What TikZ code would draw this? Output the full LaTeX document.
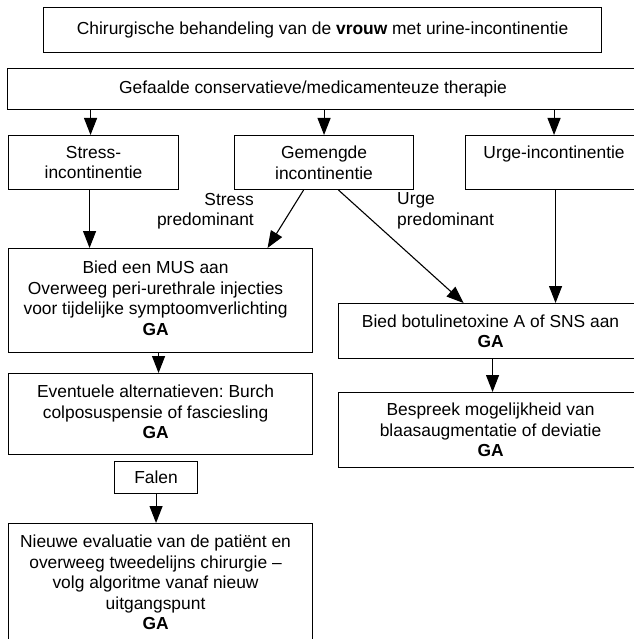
\documentclass[tikz,border=0pt]{standalone}
\usepackage{fontspec}
\setmainfont{Liberation Sans}
\usetikzlibrary{arrows.meta}
\frenchspacing
\newcommand\lftshift[2]{\begin{tabular}{@{}c@{}}#2\end{tabular}\hspace*{#1}}
\begin{document}
\begin{tikzpicture}[x=1pt,y=-1pt,
  box/.style={draw, line width=1.1pt, inner xsep=0pt, inner ysep=0pt, align=center,
    anchor=north west, font=\fontsize{17.4}{20.5}\selectfont},
  lab/.style={inner sep=0pt, font=\fontsize{17.4}{20.5}\selectfont},
  arr/.style={line width=1.1pt, -{Triangle[length=17pt,width=13pt]}}]
\fill[white] (0,0) rectangle (633,639);
\useasboundingbox (0,0) rectangle (633,639);

\node[box, minimum width=558pt, minimum height=45pt] (title) at (43,7)
  {Chirurgische behandeling van de \textbf{vrouw} met urine-incontinentie};
\node[box, minimum width=635pt, minimum height=41pt] (gef) at (7,68)
  {Gefaalde conservatieve/medicamenteuze therapie\hspace*{24pt}};
\node[box, minimum width=170pt, minimum height=54pt] (stress) at (8,135)
  {Stress-\\incontinentie};
\node[box, minimum width=179pt, minimum height=54pt] (gem) at (234,135)
  {Gemengde\\incontinentie};
\node[box, minimum width=177pt, minimum height=54pt] (urge) at (465,135)
  {Urge-incontinentie\\\mbox{}};
\node[box, minimum width=304pt, minimum height=104pt] (mus) at (8,248)
  {\lftshift{10pt}{Bied een MUS aan\\Overweeg peri-urethrale injecties\\voor tijdelijke symptoomverlichting\\\textbf{GA}}};
\node[box, minimum width=304pt, minimum height=55pt] (sns) at (338,303)
  {Bied botulinetoxine A of SNS aan\\\textbf{GA}};
\node[box, minimum width=304pt, minimum height=81pt] (alt) at (8,373)
  {\lftshift{10pt}{Eventuele alternatieven: Burch\\colposuspensie of fasciesling\\\textbf{GA}}};
\node[box, minimum width=83pt, minimum height=32pt] (falen) at (114,461)
  {Falen};
\node[box, minimum width=304pt, minimum height=122pt] (nieuwe) at (8,523)
  {\lftshift{10pt}{Nieuwe evaluatie van de patiënt en\\overweeg tweedelijns chirurgie --\\volg algoritme vanaf nieuw\\uitgangspunt\\\textbf{GA}}};
\node[box, minimum width=304pt, minimum height=75pt] (besp) at (338,392)
  {Bespreek mogelijkheid van\\blaasaugmentatie of deviatie\\\textbf{GA}};

\node[lab, align=right, anchor=east] (slab) at (254,211) {Stress\\predominant};
\node[lab, align=left, anchor=west] (ulab) at (397,211) {Urge\\predominant};

\draw[arr] ([xshift=-3pt]stress.north |- gef.south) -- ([xshift=-3pt]stress.north);
\draw[arr] (gem.north |- gef.south) -- (gem.north);
\draw[arr] (urge.north |- gef.south) -- (urge.north);
\draw[arr] ([xshift=-4pt]stress.south) -- ([xshift=-4pt]stress.south |- mus.north);
\draw[arr] ([xshift=-20.5pt]gem.south) -- ([xshift=107pt]mus.north);
\draw[arr] ([xshift=14.5pt]gem.south) -- ([xshift=-27pt]sns.north);
\draw[arr] ([xshift=1.5pt]urge.south) -- ([xshift=1.5pt]urge.south |- sns.north);
\draw[arr] ([xshift=-2pt]mus.south) -- ([xshift=-2pt]mus.south |- alt.north);
\draw[arr] (falen.south) -- (falen.south |- nieuwe.north);
\draw[arr] ([xshift=2pt]sns.south) -- ([xshift=2pt]sns.south |- besp.north);
\end{tikzpicture}
\end{document}
